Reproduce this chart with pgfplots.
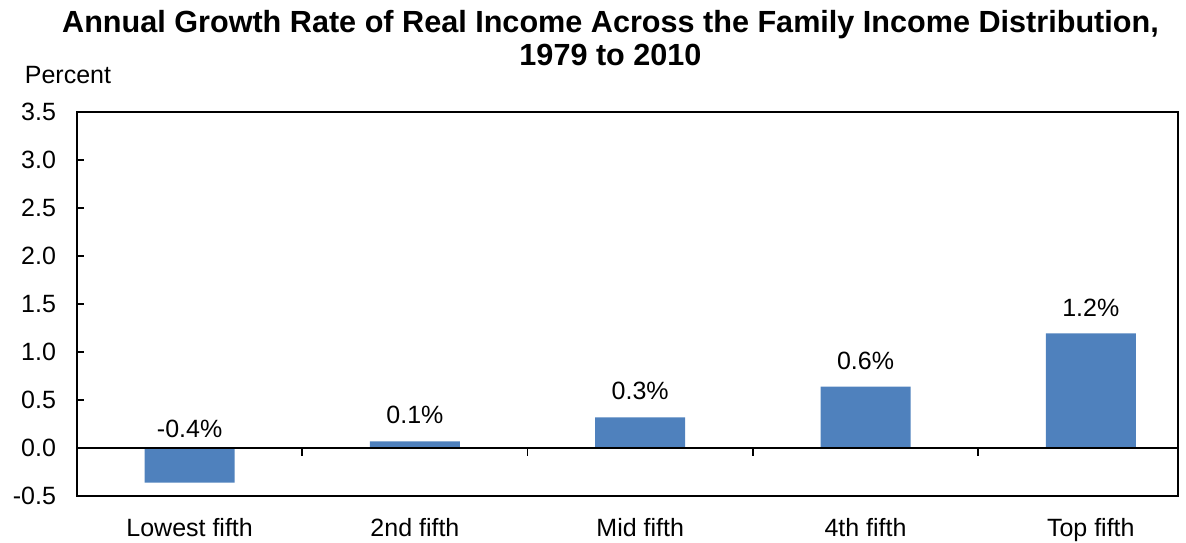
\documentclass[border=0pt]{standalone}
\usepackage{pgfplots}
\pgfplotsset{compat=1.18}
\usepackage{fontspec}
\setmainfont{Liberation Sans}
\definecolor{barblue}{RGB}{79,129,189}
\begin{document}
\begin{tikzpicture}
\begin{axis}[
  scale only axis,
  width=550.5pt, height=192pt,
  xmin=-0.5, xmax=4.387,
  ymin=-0.5, ymax=3.5,
  ytick={-0.5,0,0.5,1,1.5,2,2.5,3,3.5},
  yticklabel style={/pgf/number format/fixed,/pgf/number format/fixed zerofill,/pgf/number format/precision=1},
  /pgf/number format/assume math mode=true,
  xtick={0,1,2,3,4},
  xticklabels={Lowest fifth,2nd fifth,Mid fifth,4th fifth,Top fifth},
  major x tick style={draw=none},
  y tick style={black, line width=0.8pt},
  ytick pos=left,
  major tick length=3.5pt,
  tick label style={font=\fontsize{12.5}{15}\selectfont},
  yticklabel style={xshift=-7pt},
  xticklabel style={inner sep=1pt, yshift=-9.8pt},
  axis line style={line width=1pt},
  clip=false,
]
\addplot[ybar, bar width=45pt, fill=barblue, draw=none] coordinates {(0,-0.36) (1,0.07) (2,0.32) (3,0.64) (4,1.195)};
\addplot[black, line width=1pt] coordinates {(-0.5,0) (4.387,0)};
\addplot[draw=none, mark=none, nodes near coords, point meta=explicit symbolic,
  nodes near coords style={font=\fontsize{12.5}{15}\selectfont, anchor=south, yshift=5pt}]
  coordinates {(0,-0.07)[-0.4\%] (1,0.07)[0.1\%] (2,0.32)[0.3\%] (3,0.64)[0.6\%] (4,1.195)[1.2\%]};
\draw[line width=0.8pt] (axis cs:0.5,0) -- ([yshift=-4pt]axis cs:0.5,0);
\draw[line width=0.8pt] (axis cs:1.5,0) -- ([yshift=-4pt]axis cs:1.5,0);
\draw[line width=0.8pt] (axis cs:2.5,0) -- ([yshift=-4pt]axis cs:2.5,0);
\draw[line width=0.8pt] (axis cs:3.5,0) -- ([yshift=-4pt]axis cs:3.5,0);
\node[font=\fontsize{12.5}{15}\selectfont] at ([xshift=-4.5pt,yshift=18.5pt]rel axis cs:0,1) {Percent};
\node[font=\bfseries\fontsize{15.3}{16.5}\selectfont, align=center, inner sep=1pt] at ([xshift=-8.5pt,yshift=37pt]rel axis cs:0.5,1) {Annual Growth Rate of Real Income Across the Family Income Distribution,\\1979 to 2010};
\coordinate (bbl) at ([xshift=-38.5pt,yshift=-23.5pt]rel axis cs:0,0);
\coordinate (btr) at ([xshift=4pt,yshift=56pt]rel axis cs:1,1);
\end{axis}
\pgfresetboundingbox
\path (bbl) (btr);
\end{tikzpicture}
\end{document}
